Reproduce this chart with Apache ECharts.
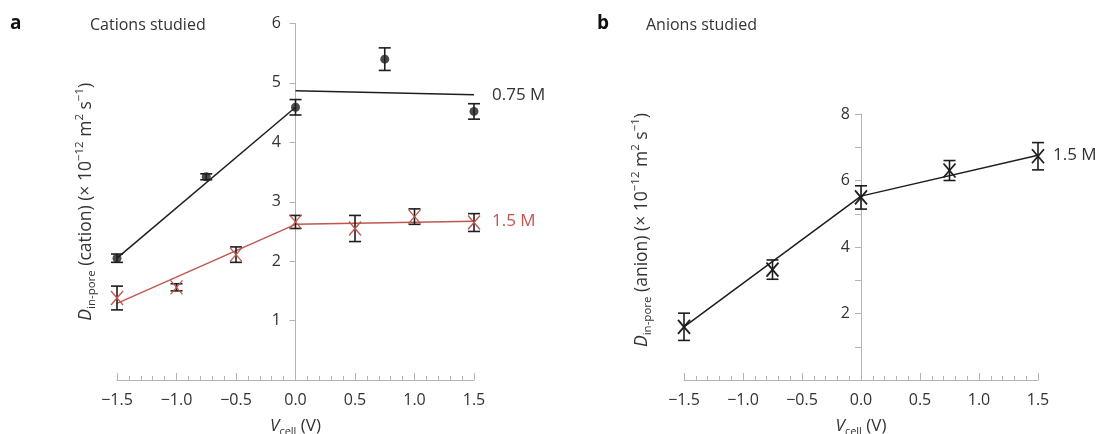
<!DOCTYPE html>
<html><head><meta charset="utf-8">
<script src="https://cdn.jsdelivr.net/npm/echarts@6/dist/echarts.min.js"></script>
<style>html,body{margin:0;padding:0;background:#fff}#c{width:1097px;height:434px}</style>
</head><body><div id="c"></div>
<script>
// ---------- data ----------
const voltMin = -1.5, voltMax = 1.5, voltStep = 0.5;
// Panel a: cations, 0.75 M
const cat075X = [-1.5, -0.75, 0, 0.75, 1.5];
const cat075Y = [2.05, 3.42, 4.59, 5.40, 4.52];
const cat075Err = [0.07, 0.05, 0.13, 0.19, 0.13];
const fit075LowX = [-1.5, 0];
const fit075LowY = [2.05, 4.59];
const fit075HighX = [0, 1.5];
const fit075HighY = [4.87, 4.80];
// Panel a: cations, 1.5 M
const cat15X = [-1.5, -1.0, -0.5, 0, 0.5, 1.0, 1.5];
const cat15Y = [1.38, 1.56, 2.11, 2.66, 2.55, 2.75, 2.65];
const cat15Err = [0.20, 0.06, 0.13, 0.11, 0.22, 0.13, 0.15];
const fit15X = [-1.5, 0, 1.5];
const fit15Y = [1.29, 2.62, 2.67];
// Panel b: anions, 1.5 M
const anX = [-1.5, -0.75, 0, 0.75, 1.5];
const anY = [1.60, 3.32, 5.49, 6.30, 6.73];
const anErr = [0.41, 0.29, 0.35, 0.30, 0.41];
const fitAnX = [-1.5, 0, 1.5];
const fitAnY = [1.60, 5.53, 6.76];
const cationTicksMax = 6, anionTicksMax = 8;

// ---------- styles ----------
const F = '"Open Sans", "DejaVu Sans", sans-serif';
const TXT = '#333';
const AX = '#b4b4b4';
const BLK = '#1e1e1e';
const RED = '#c0564f';

const zip = (xs, ys) => xs.map((x, i) => [x, ys[i]]);
const zip3 = (xs, ys, es) => xs.map((x, i) => [x, ys[i], es[i]]);
const fmtV = v => (v < 0 ? '\u2212' : '') + Math.abs(v).toFixed(1);

function errRender(markType, markColor) {
  return function (params, api) {
    const x = api.value(0), y = api.value(1), e = api.value(2);
    const lo = api.coord([x, y - e]), hi = api.coord([x, y + e]), c = api.coord([x, y]);
    const w = 6;
    const st = { stroke: BLK, lineWidth: 1.6, fill: null };
    const ch = [
      { type: 'line', shape: { x1: lo[0], y1: lo[1], x2: hi[0], y2: hi[1] }, style: st },
      { type: 'line', shape: { x1: lo[0] - w, y1: lo[1], x2: lo[0] + w, y2: lo[1] }, style: st },
      { type: 'line', shape: { x1: hi[0] - w, y1: hi[1], x2: hi[0] + w, y2: hi[1] }, style: st }
    ];
    if (markType === 'x') {
      const mw = 6, mh = 7;
      const ms = { stroke: markColor, lineWidth: markColor === BLK ? 1.8 : 1.3, fill: null };
      ch.push({ type: 'line', shape: { x1: c[0] - mw, y1: c[1] - mh, x2: c[0] + mw, y2: c[1] + mh }, style: ms });
      ch.push({ type: 'line', shape: { x1: c[0] - mw, y1: c[1] + mh, x2: c[0] + mw, y2: c[1] - mh }, style: ms });
    }
    return { type: 'group', children: ch };
  };
}

function xAxisCfg(gi) {
  return {
    type: 'value', gridIndex: gi, min: voltMin, max: voltMax, interval: voltStep,
    axisLine: { lineStyle: { color: AX, width: 1 } },
    axisTick: { inside: true, length: 7, lineStyle: { color: AX } },
    minorTick: { show: true, splitNumber: 5, length: 4, lineStyle: { color: AX } },
    splitLine: { show: false },
    axisLabel: { formatter: fmtV, color: TXT, fontFamily: F, fontSize: 16, margin: 12 },
    name: '{it|V}{sub|cell}{n| (V)}', nameLocation: 'middle', nameGap: 35,
    nameTextStyle: {
      rich: {
        it: { fontStyle: 'italic', fontSize: 17, fontFamily: F, color: TXT, lineHeight: 22 },
        sub: { fontSize: 11, fontFamily: F, color: TXT, lineHeight: 10, verticalAlign: 'bottom' },
        n: { fontSize: 17, fontFamily: F, color: TXT, lineHeight: 22 }
      }
    }
  };
}

function yRich() {
  return {
    it: { fontStyle: 'italic', fontSize: 17.5, fontFamily: F, color: TXT, lineHeight: 24 },
    sub: { fontSize: 11.5, fontFamily: F, color: TXT, lineHeight: 10, verticalAlign: 'bottom' },
    sup: { fontSize: 11.5, fontFamily: F, color: TXT, lineHeight: 10, verticalAlign: 'top' },
    n: { fontSize: 17.5, fontFamily: F, color: TXT, lineHeight: 24 }
  };
}

const option = {
  animation: false,
  backgroundColor: '#fff',
  title: [
    { text: 'a', left: 5, top: 9, textStyle: { fontFamily: F, fontSize: 19, fontWeight: 'bold', color: '#111' } },
    { text: 'Cations studied', left: 85, top: 12, textStyle: { fontFamily: F, fontSize: 16, fontWeight: 'normal', color: TXT } },
    { text: 'b', left: 592, top: 9, textStyle: { fontFamily: F, fontSize: 19, fontWeight: 'bold', color: '#111' } },
    { text: 'Anions studied', left: 641, top: 12, textStyle: { fontFamily: F, fontSize: 16, fontWeight: 'normal', color: TXT } }
  ],
  grid: [
    { left: 117, top: 23.5, width: 357, height: 356.5, outerBoundsMode: 'none', containLabel: false },
    { left: 684, top: 114, width: 354, height: 266, outerBoundsMode: 'none', containLabel: false }
  ],
  xAxis: [xAxisCfg(0), xAxisCfg(1)],
  yAxis: [
    {
      type: 'value', gridIndex: 0, min: 0, max: cationTicksMax, interval: 1,
      axisLine: { show: true, onZero: true, lineStyle: { color: AX } },
      axisTick: { show: true, length: 6, lineStyle: { color: AX } },
      splitLine: { show: false },
      axisLabel: { formatter: v => (v === 0 ? '' : String(v)), color: TXT, fontFamily: F, fontSize: 16, margin: -164 },
      name: '{it|D}{sub|in-pore}{n| (cation) (× 10}{sup|\u221212}{n| m}{sup|2}{n| s}{sup|\u22121}{n|)}',
      nameLocation: 'middle', nameRotate: 90, nameGap: 19,
      nameTextStyle: { rich: yRich() }
    },
    {
      type: 'value', gridIndex: 1, min: 0, max: anionTicksMax, interval: 1,
      axisLine: { show: true, onZero: true, lineStyle: { color: AX } },
      axisTick: { show: true, length: 6, lineStyle: { color: AX } },
      splitLine: { show: false },
      axisLabel: { formatter: v => (v !== 0 && v % 2 === 0 ? String(v) : ''), color: TXT, fontFamily: F, fontSize: 16, margin: -166 },
      name: '{it|D}{sub|in-pore}{n| (anion) (× 10}{sup|\u221212}{n| m}{sup|2}{n| s}{sup|\u22121}{n|)}',
      nameLocation: 'middle', nameRotate: 90, nameGap: 30,
      nameTextStyle: { rich: yRich(), padding: [0, 0, 0, 34] }
    }
  ],
  series: [
    { type: 'line', xAxisIndex: 0, yAxisIndex: 0, data: zip(fit075LowX, fit075LowY), showSymbol: false, symbol: 'none',
      lineStyle: { color: BLK, width: 1.5 }, z: 2 },
    { type: 'line', xAxisIndex: 0, yAxisIndex: 0, data: zip(fit075HighX, fit075HighY), showSymbol: false, symbol: 'none',
      lineStyle: { color: BLK, width: 1.5 }, z: 2,
      endLabel: { show: true, formatter: '0.75 M', distance: 18, color: TXT, fontFamily: F, fontSize: 17 } },
    { type: 'line', xAxisIndex: 0, yAxisIndex: 0, data: zip(fit15X, fit15Y), showSymbol: false, symbol: 'none',
      lineStyle: { color: RED, width: 1.5 }, z: 2,
      endLabel: { show: true, formatter: '1.5 M', distance: 18, color: RED, fontFamily: F, fontSize: 17 } },
    { type: 'custom', xAxisIndex: 0, yAxisIndex: 0, data: zip3(cat075X, cat075Y, cat075Err), renderItem: errRender('none'), z: 3 },
    { type: 'scatter', xAxisIndex: 0, yAxisIndex: 0, data: zip(cat075X, cat075Y), symbol: 'circle', symbolSize: 9,
      itemStyle: { color: BLK }, z: 4 },
    { type: 'custom', xAxisIndex: 0, yAxisIndex: 0, data: zip3(cat15X, cat15Y, cat15Err), renderItem: errRender('x', RED), z: 3 },
    { type: 'line', xAxisIndex: 1, yAxisIndex: 1, data: zip(fitAnX, fitAnY), showSymbol: false, symbol: 'none',
      lineStyle: { color: BLK, width: 1.5 }, z: 2,
      endLabel: { show: true, formatter: '1.5 M', distance: 15, color: TXT, fontFamily: F, fontSize: 17 } },
    { type: 'custom', xAxisIndex: 1, yAxisIndex: 1, data: zip3(anX, anY, anErr), renderItem: errRender('x', BLK), z: 3 }
  ]
};
const chart = echarts.init(document.getElementById('c'), null, { renderer: 'canvas' });
chart.setOption(option);
</script>
</body></html>
